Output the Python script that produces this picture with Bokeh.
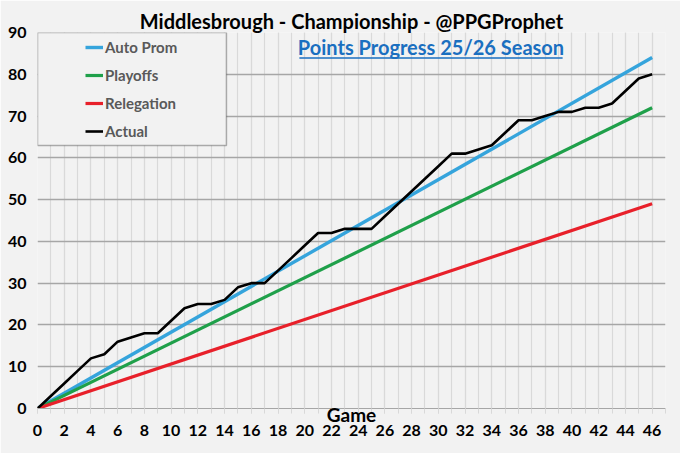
from bokeh.plotting import figure
from bokeh.models import Range1d, FixedTicker, Label, Legend, LegendItem, BoxAnnotation
from bokeh.embed import file_html
from bokeh.resources import INLINE

# ---- data ----
games = list(range(0, 47))
actual = [0, 3, 6, 9, 12, 13, 16, 17, 18, 18, 21, 24, 25, 25, 26, 29, 30, 30, 33, 36,
          39, 42, 42, 43, 43, 43, 46, 49, 52, 55, 58, 61, 61, 62, 63, 66, 69, 69, 70, 71,
          71, 72, 72, 73, 76, 79, 80]
target_games = [0, 46]
auto_prom = [0, 84]
playoffs = [0, 72]
relegation = [0, 49]

x_ticks = [0, 2, 4, 6, 8, 10, 12, 14, 16, 18, 20, 22, 24, 26, 28, 30, 32, 34, 36, 38, 40, 42, 44, 46]
x_minor = list(range(0, 48))
y_ticks = [0, 10, 20, 30, 40, 50, 60, 70, 80, 90]

title_text = "Middlesbrough - Championship - @PPGProphet"
subtitle_text = "Points Progress 25/26 Season"
x_label = "Game"

FONT = "Lato"
BG = "#f2f2f2"

p = figure(width=680, height=453, output_backend="svg", toolbar_location=None,
           title=title_text, x_range=Range1d(0, 47), y_range=Range1d(0, 90))
p.min_border_left = 37
p.min_border_right = 15
p.min_border_top = 32
p.min_border_bottom = 45
p.background_fill_color = BG
p.border_fill_color = BG
p.outline_line_color = None

p.title.align = "center"
p.title.text_font = FONT
p.title.text_font_style = "bold"
p.title.text_font_size = "20px"
p.title.text_color = "#000000"
p.title.standoff = 0
p.title.offset = 0

# axes
p.xaxis.ticker = FixedTicker(ticks=x_ticks, minor_ticks=x_minor)
p.yaxis.ticker = FixedTicker(ticks=y_ticks)
for ax in (p.xaxis, p.yaxis):
    ax.major_label_text_font = FONT
    ax.major_label_text_font_style = "bold"
    ax.major_label_text_font_size = "16px"
    ax.major_label_text_color = "#000000"
p.xaxis.axis_line_color = "#a6a6a6"
p.xaxis.major_tick_line_color = "#d9d9d9"
p.xaxis.minor_tick_line_color = "#d9d9d9"
p.xaxis.major_tick_out = 5
p.xaxis.major_tick_in = 0
p.xaxis.minor_tick_out = 5
p.xaxis.minor_tick_in = 0
p.xaxis.major_label_standoff = 11
p.xaxis.axis_label = x_label
p.xaxis.axis_label_text_font = FONT
p.xaxis.axis_label_text_font_style = "bold"
p.xaxis.axis_label_text_font_size = "19px"
p.xaxis.axis_label_text_color = "#000000"
p.xaxis.axis_label_standoff = -36
p.yaxis.axis_line_color = None
p.yaxis.major_tick_line_color = None
p.yaxis.minor_tick_line_color = None
p.yaxis.major_tick_out = 0
p.yaxis.major_tick_in = 0
p.yaxis.major_label_standoff = 11

p.xgrid.grid_line_color = "#d9d9d9"
p.xgrid.minor_grid_line_color = "#d9d9d9"
p.xgrid.grid_line_width = 1.2
p.xgrid.minor_grid_line_width = 1.2
p.ygrid.grid_line_color = "#a6a6a6"
p.ygrid.grid_line_width = 1.3

# series
r_auto = p.line(target_games, auto_prom, line_color="#35a4dc", line_width=3.4)
r_play = p.line(target_games, playoffs, line_color="#1fa04a", line_width=3.2)
r_rel = p.line(target_games, relegation, line_color="#e8202a", line_width=3.2)
r_act = p.line(games, actual, line_color="#000000", line_width=2.6)

# legend box + legend
p.add_layout(BoxAnnotation(left=0, right=14.14, top=90, bottom=62.95,
                           fill_color=BG, fill_alpha=1.0,
                           line_color="#000000", line_width=1.5, level="overlay"))
legend = Legend(items=[LegendItem(label="Auto Prom", renderers=[r_auto]),
                       LegendItem(label="Playoffs", renderers=[r_play]),
                       LegendItem(label="Relegation", renderers=[r_rel]),
                       LegendItem(label="Actual", renderers=[r_act])],
                location=(48, 267), margin=0, padding=0,
                border_line_color=None, background_fill_alpha=0,
                glyph_width=18, glyph_height=20, label_height=20, spacing=8,
                label_standoff=2, label_text_font=FONT, label_text_font_style="bold",
                label_text_font_size="15px", label_text_color="#595959",
                label_text_baseline="middle")
legend.level = "overlay"
p.add_layout(legend, "center")

# subtitle with underline
p.add_layout(Label(x=29.45, y=86.5, text=subtitle_text, text_align="center",
                   text_baseline="middle", text_font=FONT, text_font_style="bold",
                   text_font_size="20px", text_color="#1a6fc0"))
p.segment(x0=[19.6], y0=[83.9], x1=[39.3], y1=[83.9], line_color="#1a6fc0", line_width=1.5)

open("out.html", "w").write(file_html(p, INLINE))
